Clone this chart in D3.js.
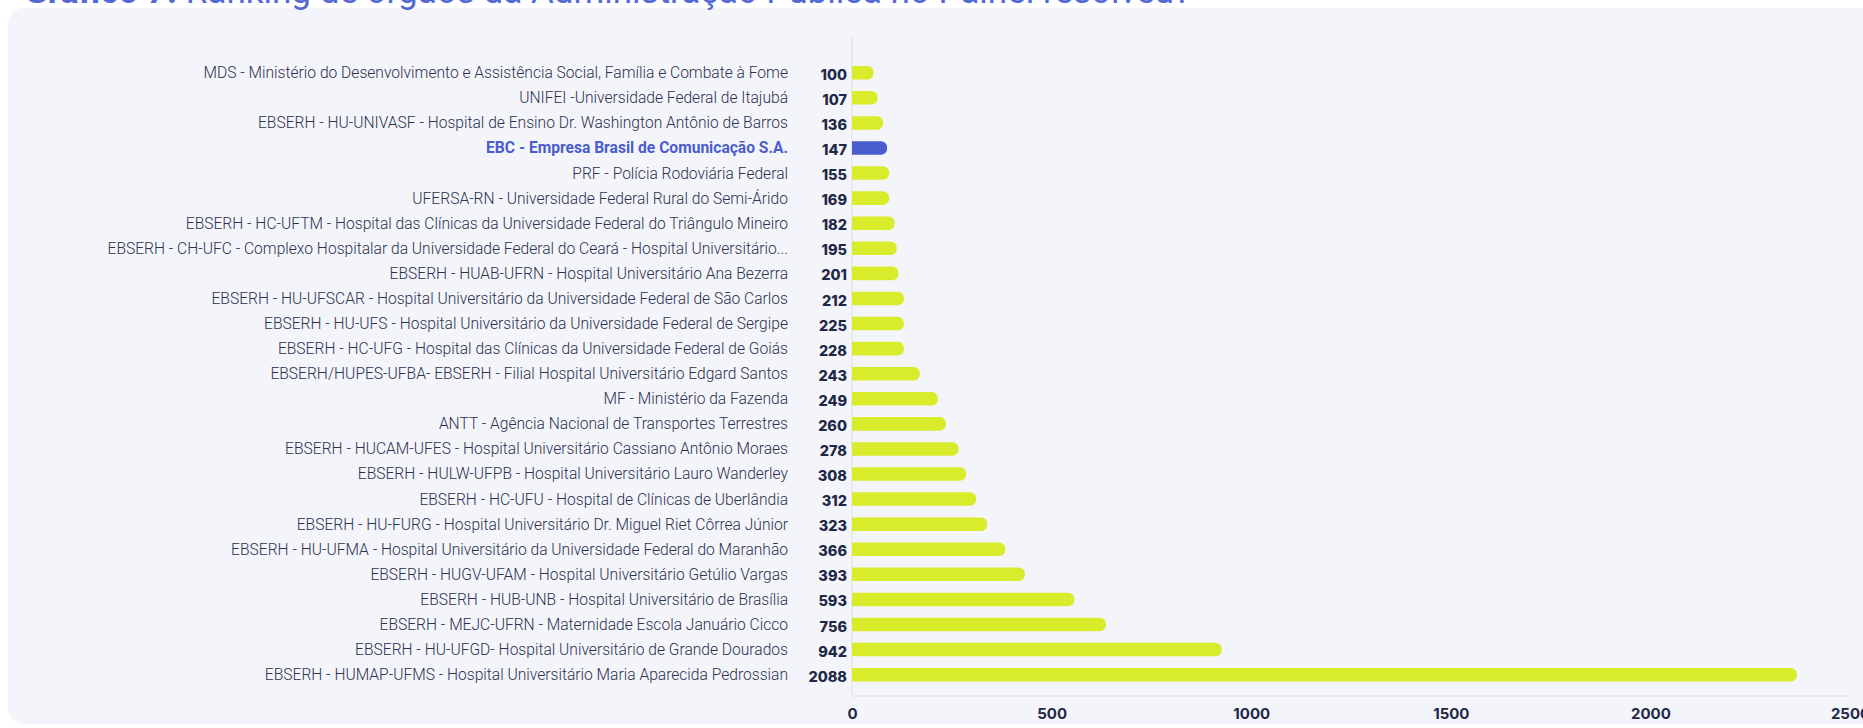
<!DOCTYPE html>
<html>
<head>
<meta charset="utf-8">
<script src="https://cdn.jsdelivr.net/npm/d3@7"></script>
<style>
  html, body { margin: 0; padding: 0; background: #fff; overflow: hidden; }
  #chart { width: 1863px; height: 728px; }
</style>
</head>
<body>
<div id="chart"></div>
<script>
// categorias (de cima para baixo)
const orgaos = [
  'MDS - Ministério do Desenvolvimento e Assistência Social, Família e Combate à Fome',
  'UNIFEI -Universidade Federal de Itajubá',
  'EBSERH - HU-UNIVASF - Hospital de Ensino Dr. Washington Antônio de Barros',
  'EBC - Empresa Brasil de Comunicação S.A.',
  'PRF - Polícia Rodoviária Federal',
  'UFERSA-RN - Universidade Federal Rural do Semi-Árido',
  'EBSERH - HC-UFTM - Hospital das Clínicas da Universidade Federal do Triângulo Mineiro',
  'EBSERH - CH-UFC - Complexo Hospitalar da Universidade Federal do Ceará - Hospital Universitário...',
  'EBSERH - HUAB-UFRN - Hospital Universitário Ana Bezerra',
  'EBSERH - HU-UFSCAR - Hospital Universitário da Universidade Federal de São Carlos',
  'EBSERH - HU-UFS - Hospital Universitário da Universidade Federal de Sergipe',
  'EBSERH - HC-UFG - Hospital das Clínicas da Universidade Federal de Goiás',
  'EBSERH/HUPES-UFBA- EBSERH - Filial Hospital Universitário Edgard Santos',
  'MF - Ministério da Fazenda',
  'ANTT - Agência Nacional de Transportes Terrestres',
  'EBSERH - HUCAM-UFES - Hospital Universitário Cassiano Antônio Moraes',
  'EBSERH - HULW-UFPB - Hospital Universitário Lauro Wanderley',
  'EBSERH - HC-UFU - Hospital de Clínicas de Uberlândia',
  'EBSERH - HU-FURG - Hospital Universitário Dr. Miguel Riet Côrrea Júnior',
  'EBSERH - HU-UFMA - Hospital Universitário da Universidade Federal do Maranhão',
  'EBSERH - HUGV-UFAM - Hospital Universitário Getúlio Vargas',
  'EBSERH - HUB-UNB - Hospital Universitário de Brasília',
  'EBSERH - MEJC-UFRN - Maternidade Escola Januário Cicco',
  'EBSERH - HU-UFGD- Hospital Universitário de Grande Dourados',
  'EBSERH - HUMAP-UFMS - Hospital Universitário Maria Aparecida Pedrossian'
];

// numeros escritos ao lado das barras
const rotulos = [100, 107, 136, 147, 155, 169, 182, 195, 201, 212, 225, 228, 243,
  249, 260, 278, 308, 312, 323, 366, 393, 593, 756, 942, 2088];

// comprimento das barras, lido do eixo (nao bate com os rotulos na figura original)
const barras = [54, 64, 78, 88, 93, 93, 107, 112, 116, 130, 130, 130, 170,
  215, 235, 267, 286, 311, 339, 384, 433, 557, 636, 926, 2367];

const ticks = [0, 500, 1000, 1500, 2000, 2500];
const destaque = 'EBC - Empresa Brasil de Comunicação S.A.';

const W = 1863, H = 728;
const AMARELO = '#d8ec2c', AZUL = '#4a5dcf', TEXTO = '#1f2847';

const svg = d3.select('#chart').append('svg')
  .attr('width', W)
  .attr('height', H);

// fundo do cartao
svg.append('rect')
  .attr('x', 8).attr('y', 8)
  .attr('width', W + 40).attr('height', 716)
  .attr('rx', 16)
  .attr('fill', '#f4f5fa');

// titulo (cortado no topo, como no original)
const titulo = svg.append('text')
  .attr('x', 24).attr('y', 2.5)
  .style('font-family', 'Roboto, sans-serif')
  .style('font-size', '35px')
  .attr('fill', '#5468d4');
titulo.append('tspan').style('font-weight', 700).text('Gráfico 7.');
titulo.append('tspan').style('font-weight', 400).text(' Ranking de órgãos da Administração Pública no Painel resolveu?');

const x = d3.scaleLinear().domain([0, 2500]).range([852, 1850]);
const y = d3.scaleBand().domain(orgaos)
  .range([60.2, 687.2])
  .paddingInner(0.46)
  .paddingOuter(0.23);

// linhas dos eixos
svg.append('line')
  .attr('x1', x(0)).attr('x2', x(0))
  .attr('y1', 36).attr('y2', 696)
  .attr('stroke', '#e3e5ec').attr('stroke-width', 1.5);
svg.append('line')
  .attr('x1', x(0)).attr('x2', x(2500))
  .attr('y1', 696).attr('y2', 696)
  .attr('stroke', '#e3e5ec').attr('stroke-width', 1.5);

const xAxis = svg.append('g')
  .attr('transform', `translate(0,708)`)
  .call(d3.axisBottom(x).tickValues(ticks).tickFormat(d3.format('d')).tickSize(0).tickPadding(0));
xAxis.select('.domain').remove();
xAxis.selectAll('text')
  .attr('dy', '0.72em')
  .style('font-family', 'Inter, sans-serif')
  .style('font-weight', 700)
  .style('font-size', '15px')
  .attr('fill', TEXTO);

const data = orgaos.map((n, i) => ({ nome: n, rotulo: rotulos[i], valor: barras[i] }));

// barras com ponta direita arredondada
const r = 6;
svg.append('g').selectAll('path')
  .data(data)
  .join('path')
  .attr('fill', d => d.nome === destaque ? AZUL : AMARELO)
  .attr('d', d => {
    const x0 = x(0), x1 = x(d.valor), y0 = y(d.nome), h = y.bandwidth();
    return `M${x0},${y0}H${x1 - r}A${r},${r} 0 0 1 ${x1},${y0 + r}V${y0 + h - r}` +
      `A${r},${r} 0 0 1 ${x1 - r},${y0 + h}H${x0}Z`;
  });

// nomes dos orgaos
svg.append('g').selectAll('text')
  .data(data)
  .join('text')
  .attr('x', 788)
  .attr('y', d => y(d.nome) + y.bandwidth() / 2)
  .attr('dy', '0.35em')
  .attr('text-anchor', 'end')
  .style('font-family', 'Roboto, sans-serif')
  .style('font-size', '15.6px')
  .style('font-weight', d => d.nome === destaque ? 700 : 300)
  .attr('fill', d => d.nome === destaque ? AZUL : '#2b3150')
  .text(d => d.nome);

// valores
svg.append('g').selectAll('text')
  .data(data)
  .join('text')
  .attr('x', 847)
  .attr('y', d => y(d.nome) + y.bandwidth() / 2 + 2)
  .attr('dy', '0.35em')
  .attr('text-anchor', 'end')
  .style('font-family', 'Inter, sans-serif')
  .style('font-size', '14.5px')
  .style('font-weight', 800)
  .attr('fill', TEXTO)
  .text(d => d.rotulo);
</script>
</body>
</html>
